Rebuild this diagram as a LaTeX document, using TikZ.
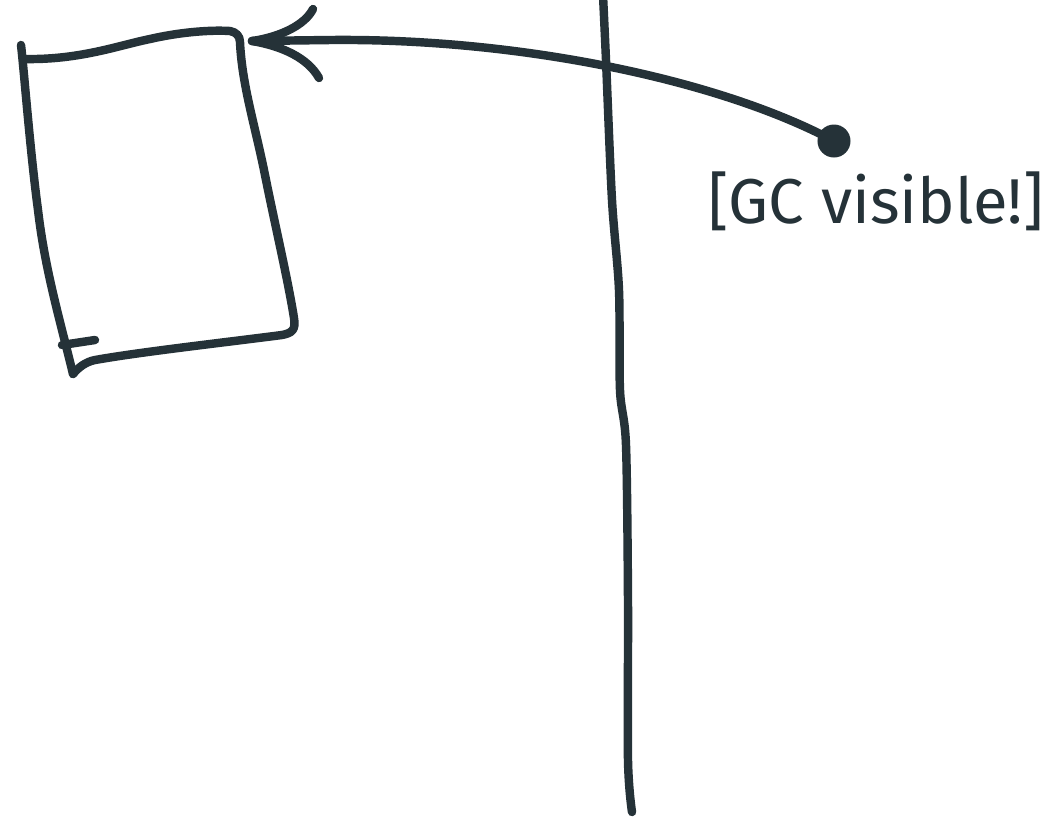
\documentclass[tikz,border=0pt]{standalone}
\usepackage{fontspec}
\newfontfamily\handfont{Fira Sans}
\definecolor{ink}{HTML}{253238}
\begin{document}
\begin{tikzpicture}[x=0.01cm,y=-0.01cm,
  stroke/.style={draw=ink,line width=2.4pt,line cap=round,line join=round},
  dotnode/.style={circle,fill=ink,inner sep=0pt,minimum size=0.33cm},
  label/.style={text=ink,inner sep=0pt,font=\handfont}]
\useasboundingbox[fill=white] (0,0) rectangle (1059,823);
% named points
\coordinate (tl) at (21,45);
\coordinate (bl) at (73,374);
\coordinate (tip) at (252,41);
\coordinate (armA) at (313,9);
\coordinate (armB) at (319,78);
\coordinate (tickA) at (62,345);
\coordinate (tickB) at (95,340);
\coordinate (vtop) at (603,-5);
\coordinate (vbot) at (632,812);
% box
\draw[stroke] (tl) .. controls (24,70) and (30,150) .. (38,210)
  .. controls (45,270) and (60,320) .. (bl);
\draw[stroke] (25,59) .. controls (80,60) and (120,45) .. (150,39)
  .. controls (185,31) and (215,30) .. (230,31) .. controls (236,32) and (240,36) .. (240,42)
  .. controls (242,85) and (255,125) .. (265,175)
  .. controls (275,225) and (288,280) .. (294,318)
  .. controls (296,330) and (292,333) .. (282,335)
  .. controls (220,343) and (140,352) .. (95,360)
  .. controls (85,362) and (78,368) .. (bl);
\draw[stroke] (tickA) -- (tickB);
% vertical divider
\draw[stroke] plot[smooth,tension=0.5] coordinates {(vtop) (606,60) (612,200) (619,290) (620,390) (626,445) (628,600) (628,760) (vbot)};
% arrow with dot
\node[dotnode] (dot) at (834,141) {};
\draw[stroke] (dot.center) .. controls (720,80) and (520,38) .. (330,40) -- (tip);
\draw[stroke] (tip) .. controls (280,37) and (305,25) .. (armA);
\draw[stroke] (tip) .. controls (282,46) and (308,58) .. (armB);
% label
\node[label,anchor=center] (lbl) at (876,201) {\resizebox{3.35cm}{!}{[GC visible!]}};
\end{tikzpicture}
\end{document}
